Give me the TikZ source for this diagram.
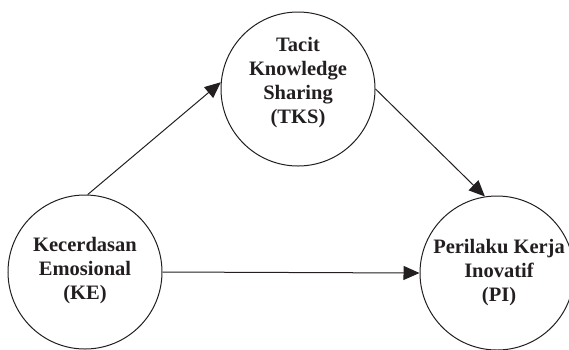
\documentclass[tikz,border=0pt]{standalone}
\usepackage{fontspec}
\setmainfont{Liberation Serif}
\usetikzlibrary{arrows.meta}
\definecolor{ink}{HTML}{231F20}
\tikzset{
  circ/.style={draw=ink, line width=1pt, circle, minimum size=154pt, inner sep=0pt},
  lab/.style={align=center, text=ink, font=\fontsize{20.5}{24}\selectfont\bfseries, inner sep=0pt},
  conn/.style={draw=ink, line width=1pt, -{Triangle[length=16pt,width=14pt]}}
}
\begin{document}
\begin{tikzpicture}[x=1pt,y=-1pt]
\useasboundingbox (0,0) rectangle (569,349);
\node[circ] (TKS) at (298,89) {};
\node[circ] (KE) at (85,272) {};
\node[circ] (PI) at (497,273) {};
\node[lab] (TKSt) at ([yshift=6pt]TKS.center) {Tacit\\Knowledge\\Sharing\\(TKS)};
\node[lab] (KEt) at ([yshift=1pt]KE.center) {Kecerdasan\\Emosional\\(KE)};
\node[lab] (PIt) at ([xshift=2pt]PI.center) {Perilaku Kerja\\Inovatif\\(PI)};
\draw[conn] (KE.88) -- (TKS.175);
\draw[conn] (TKS.east) -- (PI.99);
\draw[conn] (KE.east) -- (PI.west);
\end{tikzpicture}
\end{document}
